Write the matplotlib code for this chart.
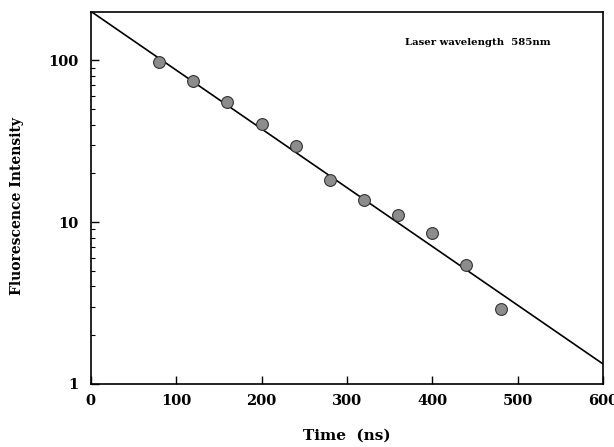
import numpy as np
import matplotlib
matplotlib.use('Agg')
import matplotlib.pyplot as plt
from matplotlib.ticker import LogLocator, NullFormatter, FixedLocator

# measured decay
time_ns   = [80, 120, 160, 200, 240, 280, 320, 360, 400, 440, 480]
intensity = [97, 74.5, 55.3, 40.3, 29.4, 18.2, 13.7, 11.0, 8.5, 5.43, 2.89]

# single exponential fit (straight line on log axis), end points
fit_t = [0, 600]
fit_I = [200, 1.33]

plt.rcParams['font.family'] = ['DejaVu Serif']

fig = plt.figure(figsize=(6.14, 4.47), dpi=100)
ax = fig.add_axes([0.148, 0.141, 0.834, 0.832])

ax.plot(fit_t, fit_I, color='k', linewidth=1.2)
ax.plot(time_ns, intensity, 'o', markersize=8.5, markerfacecolor='#8c8c8c',
        markeredgecolor='#333333', markeredgewidth=0.8)

ax.set_yscale('log')
ax.set_xlim(0, 600)
ax.set_ylim(1, 198)
ax.xaxis.set_major_locator(FixedLocator([0, 100, 200, 300, 400, 500, 600]))
ax.yaxis.set_major_locator(FixedLocator([1, 10, 100]))
ax.yaxis.set_major_formatter(plt.FuncFormatter(lambda v, p: '%d' % v))
ax.yaxis.set_minor_locator(LogLocator(base=10, subs=np.arange(2, 10)))
ax.yaxis.set_minor_formatter(NullFormatter())

ax.tick_params(axis='both', which='major', direction='in', length=6, width=1,
               labelsize=10.5, top=False, right=False)
ax.tick_params(axis='y', which='minor', direction='in', length=3, width=0.8, right=False)
ax.tick_params(axis='x', pad=7)
ax.tick_params(axis='y', pad=9)
for lab in ax.get_xticklabels() + ax.get_yticklabels():
    lab.set_fontweight('bold')

for s in ax.spines.values():
    s.set_linewidth(1.2)

ax.set_xlabel('Time  (ns)', fontsize=11, fontweight='bold', labelpad=15)
ax.set_ylabel('Fluorescence Intensity', fontsize=10, fontweight='bold')
ax.yaxis.set_label_coords(-0.131, 0.478)
ax.text(368, 129, 'Laser wavelength  585nm', fontsize=7.3, fontweight='bold',
        va='center', ha='left')

fig.savefig('out.png', dpi=100)
